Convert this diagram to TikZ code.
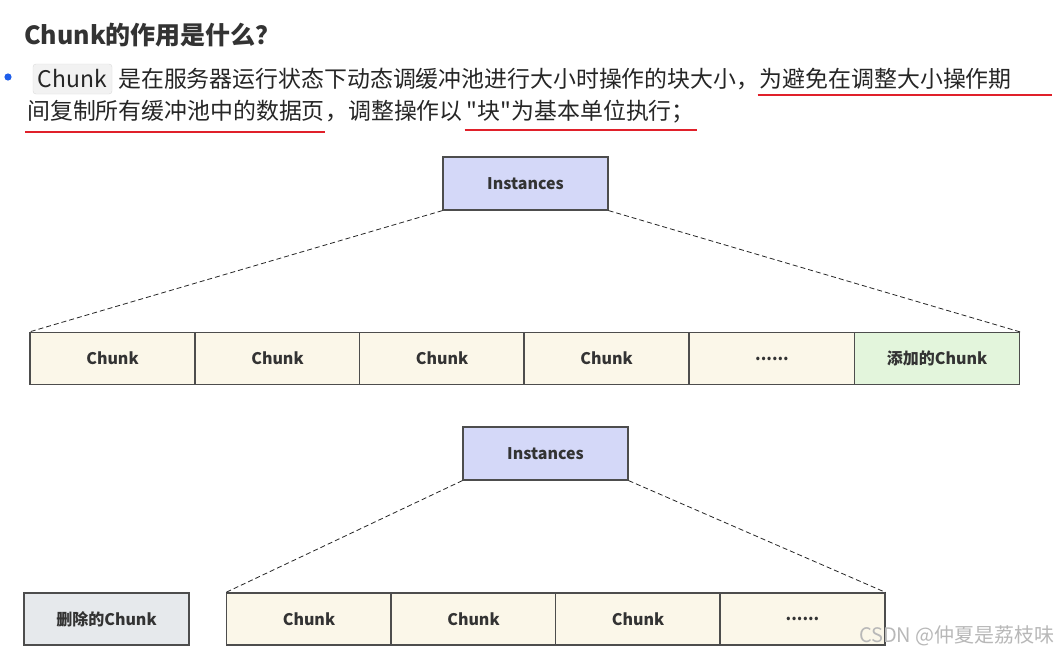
\documentclass[tikz,border=0pt]{standalone}
\usepackage{fontspec}
\setmainfont{Noto Sans CJK SC}
\newfontfamily\bodyf{Noto Sans CJK SC}
\usetikzlibrary{positioning}
\definecolor{txt}{HTML}{262626}
\definecolor{lbl}{HTML}{333333}
\definecolor{edge}{HTML}{4D4D4D}
\definecolor{inst}{HTML}{D4D8F8}
\definecolor{cream}{HTML}{FBF7E9}
\definecolor{addg}{HTML}{E3F5DC}
\definecolor{delg}{HTML}{E6E9EC}
\definecolor{ulred}{HTML}{E0202A}
\definecolor{bul}{HTML}{1E5EEB}
\definecolor{wm}{HTML}{B8B8B8}
\tikzset{
  body/.style={font=\bodyf\fontsize{22.9}{26}\selectfont, text=txt, inner sep=0pt, anchor=base west},
  box/.style={draw=edge, line width=1.2pt, minimum height=52pt, inner sep=0pt,
              font=\bfseries\fontsize{16}{18}\selectfont, text=lbl},
  instbox/.style={box, fill=inst, minimum width=165pt, minimum height=53pt},
  cell/.style={box, fill=cream, minimum width=165pt},
  link/.style={draw=black!85, line width=0.8pt, dash pattern=on 5pt off 3pt},
  ul/.style={draw=ulred, line width=1.6pt}
}
\begin{document}
\begin{tikzpicture}[x=1pt,y=-1pt]
\path[use as bounding box, fill=white] (0,0) rectangle (1058,653);

% heading
\node[body, font=\bfseries\fontsize{25}{28}\selectfont, text=black!80] (title) at (24,44) {Chunk的作用是什么？};

% bullet line 1
\fill[bul] (8,77) circle (3.6pt);
\node[draw=black!14, fill=black!5, rounded corners=3pt, inner sep=0pt,
      minimum width=79pt, minimum height=30pt, font=\fontsize{22.9}{26}\selectfont, text=txt]
      (code) at (72.5,79) {Chunk};
\node[body] (l1a) at (118,87) {是在服务器运行状态下动态调缓冲池进行大小时操作的块大小，};
\node[body] (l1b) at (l1a.base east) {为避免在调整大小操作期};
\node[body] (l2a) at (27,119) {间复制所有缓冲池中的数据页};
\node[body] (l2b) at (l2a.base east) {，调整操作以\,};
\node[body] (l2c) at (l2b.base east) {"块"为基本单位执行；};

\draw[ul] ([xshift=-2pt,yshift=-8pt]l1b.base west) -- ([xshift=40pt,yshift=-8pt]l1b.base east);
\draw[ul] ([xshift=-2pt,yshift=-13pt]l2a.base west) -- ([xshift=0pt,yshift=-13pt]l2a.base east);
\draw[ul] ([xshift=-2pt,yshift=-11pt]l2c.base west) -- ([xshift=2pt,yshift=-11pt]l2c.base east);

% top diagram
\node[instbox] (i1) at (525.5,183.5) {Instances};
\node[cell] (a1) at (112.5,358.5) {Chunk};
\node[cell] (a2) at (277.5,358.5) {Chunk};
\node[cell] (a3) at (442,358.5) {Chunk};
\node[cell] (a4) at (606.5,358.5) {Chunk};
\node[cell] (a5) at (772,358.5) {......};
\node[cell, fill=addg] (a6) at (937,358.5) {添加的Chunk};
\draw[link] (i1.south west) -- (a1.north west);
\draw[link] (i1.south east) -- (a6.north east);

% bottom diagram
\node[instbox] (i2) at (545.5,453.5) {Instances};
\node[box, fill=delg, minimum width=165pt] (d) at (106.5,619) {删除的Chunk};
\node[cell] (b1) at (309,619) {Chunk};
\node[cell] (b2) at (473.5,619) {Chunk};
\node[cell] (b3) at (638,619) {Chunk};
\node[cell] (b4) at (802.5,619) {......};
\draw[link] (i2.south west) -- (b1.north west);
\draw[link] (i2.south east) -- (b4.north east);

% watermark
\node[anchor=base east, inner sep=0pt, text=wm, font=\fontsize{20}{22}\selectfont] (wmk) at (1055,642) {CSDN @仲夏是荔枝味};
\end{tikzpicture}
\end{document}
